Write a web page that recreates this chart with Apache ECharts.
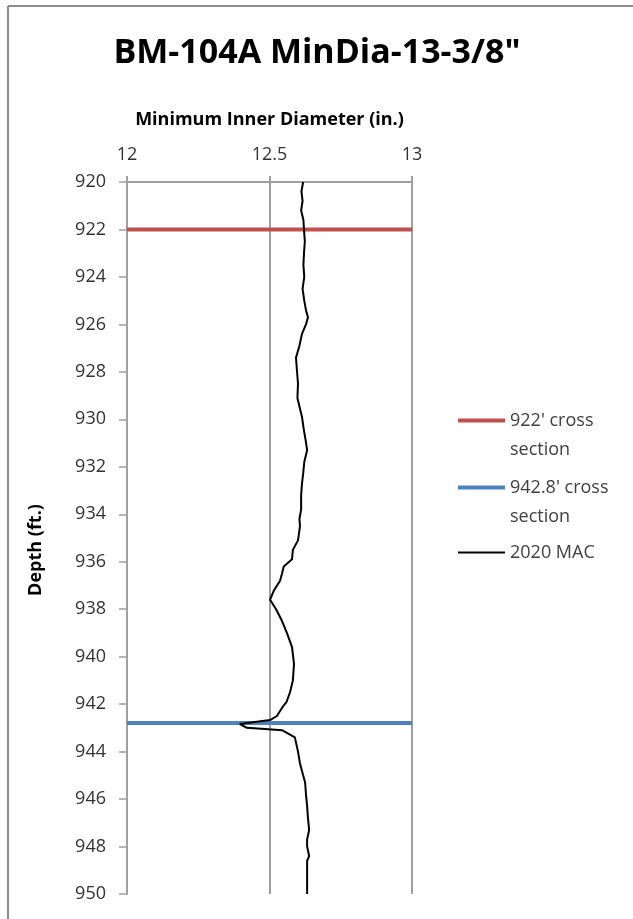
<!DOCTYPE html>
<html>
<head>
<meta charset="utf-8">
<script src="https://cdn.jsdelivr.net/npm/echarts@6/dist/echarts.min.js"></script>
<style>
html,body{margin:0;padding:0;background:#fff;}
#chart{width:633px;height:919px;}
</style>
</head>
<body>
<div id="chart"></div>
<script>
// Depth (ft.) and minimum inner diameter (in.) for 2020 MAC log
const macDepth = [920.0, 920.4, 920.8, 921.2, 921.6, 922.0, 922.5, 923.0, 923.5, 924.0, 924.5, 925.0, 925.4, 925.7, 926.0, 926.4, 926.9, 927.4, 927.9, 928.5, 929.1, 929.5, 929.9, 930.4, 930.9, 931.3, 931.8, 932.3, 932.7, 933.2, 933.8, 934.2, 934.5, 935.1, 935.5, 935.9, 936.2, 936.5, 936.8, 937.2, 937.6, 938.0, 938.5, 939.0, 939.6, 940.3, 941.0, 941.5, 941.9, 942.1, 942.5, 942.67, 942.76, 942.84, 943.0, 943.05, 943.1, 943.4, 944.0, 944.5, 945.0, 945.3, 945.8, 946.3, 946.8, 947.3, 947.7, 948.0, 948.4, 948.6, 949.0, 949.5, 950.0];
const macDiameter = [12.618, 12.612, 12.616, 12.611, 12.619, 12.621, 12.624, 12.621, 12.619, 12.622, 12.616, 12.622, 12.628, 12.635, 12.628, 12.614, 12.605, 12.593, 12.596, 12.600, 12.598, 12.606, 12.614, 12.620, 12.627, 12.632, 12.622, 12.618, 12.614, 12.611, 12.611, 12.605, 12.607, 12.600, 12.582, 12.579, 12.550, 12.544, 12.537, 12.516, 12.502, 12.523, 12.544, 12.561, 12.579, 12.586, 12.582, 12.572, 12.560, 12.547, 12.526, 12.502, 12.442, 12.396, 12.421, 12.484, 12.544, 12.589, 12.600, 12.607, 12.618, 12.625, 12.628, 12.632, 12.635, 12.639, 12.632, 12.632, 12.639, 12.632, 12.632, 12.632, 12.632];

// Cross-section depths
const crossSectionNames = ["922' cross section", "942.8' cross section"];
const crossSectionDepths = [922, 942.8];
const diameterRange = [12, 13];

const seriesNames = ["922' cross section", "942.8' cross section", "2020 MAC"];
const legendLabels = ["\n922' cross\nsection", "\n942.8' cross\nsection", "2020 MAC"];
const xTicks = [12, 12.5, 13];
const yMin = 920, yMax = 950, yStep = 2;

const chart = echarts.init(document.getElementById('chart'), null, {renderer: 'canvas'});

const macData = macDepth.map((d, i) => [macDiameter[i], d]);
const csColors = ['#c0504d', '#4f81bd'];
const csSeries = crossSectionDepths.map((d, i) => ({
  name: crossSectionNames[i],
  type: 'line',
  data: diameterRange.map(v => [v, d]),
  symbol: 'none',
  lineStyle: {color: csColors[i], width: 4},
  itemStyle: {color: csColors[i]},
  z: 3
}));

const legendText = {fontFamily: 'Open Sans', fontSize: 18, color: '#404040', lineHeight: 29};
const legendTops = [372, 439, 533];
const legendIconH = [4, 4, 2];

const option = {
  backgroundColor: '#fff',
  animation: false,
  title: {
    text: 'BM-104A MinDia-13-3/8"',
    left: 312, top: 31, textAlign: 'center',
    textStyle: {fontFamily: 'Open Sans', fontWeight: 'bold', fontSize: 34, color: '#000'}
  },
  legend: seriesNames.map((n, i) => ({
    data: [n],
    left: 453, top: legendTops[i], orient: 'vertical',
    itemWidth: 47, itemHeight: legendIconH[i], itemGap: 4,
    icon: 'rect', textStyle: legendText,
    formatter: () => legendLabels[i]
  })),
  grid: {left: 127, top: 182, width: 285, height: 712, containLabel: false},
  xAxis: {
    type: 'value', position: 'top', min: xTicks[0], max: xTicks[xTicks.length - 1], interval: 0.5,
    name: 'Minimum Inner Diameter (in.)', nameLocation: 'middle', nameGap: 53,
    nameTextStyle: {fontFamily: 'Open Sans', fontWeight: 'bold', fontSize: 18, color: '#000'},
    axisLine: {show: true, lineStyle: {color: '#a0a0a0', width: 2}},
    axisTick: {show: true, inside: false, length: 6, lineStyle: {color: '#a0a0a0', width: 2}},
    splitLine: {show: true, lineStyle: {color: '#a0a0a0', width: 2}},
    axisLabel: {fontFamily: 'Open Sans', fontSize: 18, color: '#333', margin: 18}
  },
  yAxis: {
    type: 'value', inverse: true, min: yMin, max: yMax, interval: yStep,
    name: 'Depth (ft.)', nameLocation: 'middle', nameGap: 82, nameRotate: 90,
    nameTextStyle: {fontFamily: 'Open Sans', fontWeight: 'bold', fontSize: 18, color: '#000', padding: [0, 24, 0, 0]},
    axisLine: {show: true, onZero: false, lineStyle: {color: '#a0a0a0', width: 2}},
    axisTick: {show: true, inside: false, length: 8, lineStyle: {color: '#a0a0a0', width: 1.5}},
    splitLine: {show: false},
    axisLabel: {fontFamily: 'Open Sans', fontSize: 18, color: '#333', margin: 21}
  },
  graphic: [
    {type: 'line', shape: {x1: 8, y1: 6, x2: 633, y2: 6}, style: {stroke: '#8c8c8c', lineWidth: 2}},
    {type: 'line', shape: {x1: 8, y1: 6, x2: 8, y2: 919}, style: {stroke: '#8c8c8c', lineWidth: 2}}
  ],
  series: [
    ...csSeries,
    {
      name: seriesNames[2], type: 'line', data: macData, symbol: 'none',
      lineStyle: {color: '#000', width: 2}, itemStyle: {color: '#000'}, z: 4
    }
  ]
};
chart.setOption(option);
</script>
</body>
</html>
